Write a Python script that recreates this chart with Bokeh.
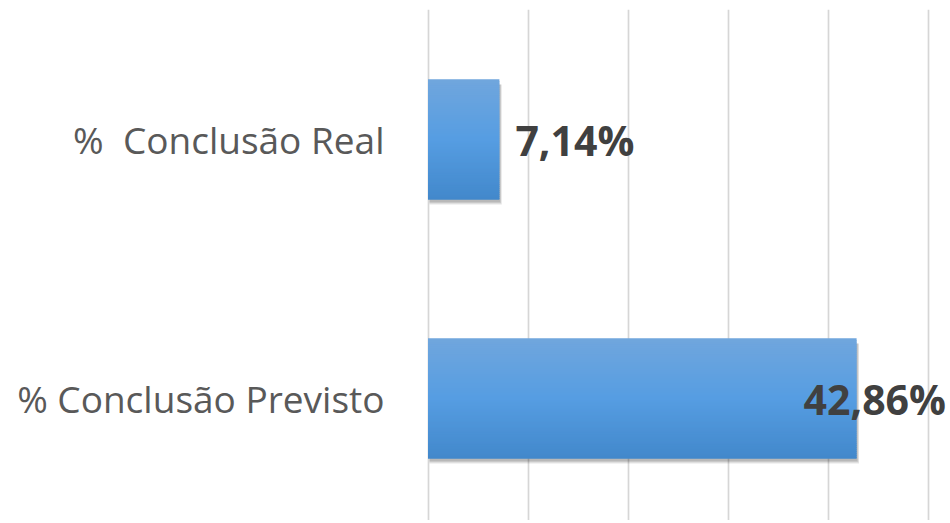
from bokeh.plotting import figure
from bokeh.models import FixedTicker, ColumnDataSource, Range1d
from bokeh.core.properties import value
from bokeh.embed import file_html
from bokeh.resources import INLINE

# ---- data ----
categories = ["% Conclusão Previsto", "%\u00a0 Conclusão Real"]
values = [42.86, 7.14]
labels = ["42,86%", "7,14%"]
x_ticks = [0, 10, 20, 30, 40, 50]

# ---- style ----
bar_h = 0.465
top_rgb = (112, 166, 221)
mid_rgb = (86, 157, 226)
bot_rgb = (66, 136, 203)
label_offsets = [-53, 16]

pos = list(range(len(categories)))

p = figure(width=946, height=520, output_backend="svg", toolbar_location=None,
           x_range=Range1d(-0.15, 51.85), y_range=Range1d(-0.471, 1.502),
           min_border_left=426, min_border_right=0, min_border_top=9,
           min_border_bottom=0)
p.outline_line_color = None
p.background_fill_color = "white"
p.border_fill_color = "white"

p.xaxis.visible = False
p.xgrid.ticker = FixedTicker(ticks=x_ticks)
p.xgrid.grid_line_color = "#D6D6D6"
p.xgrid.grid_line_width = 1.7
p.ygrid.grid_line_color = None

p.yaxis.ticker = FixedTicker(ticks=pos)
p.yaxis.major_label_overrides = {i: c for i, c in zip(pos, categories)}
p.yaxis.axis_line_color = None
p.yaxis.major_tick_line_color = None
p.yaxis.minor_tick_line_color = None
p.yaxis.major_label_text_font = "Open Sans"
p.yaxis.major_label_text_font_size = "37px"
p.yaxis.major_label_text_color = "#595959"
p.yaxis.major_label_standoff = 36


def lerp(a, b, t):
    return tuple(int(round(a[k] + (b[k] - a[k]) * t)) for k in range(3))


def grad_color(t):
    # t = 0 at top, 1 at bottom
    if t < 0.5:
        c = lerp(top_rgb, mid_rgb, t / 0.5)
    else:
        c = lerp(mid_rgb, bot_rgb, (t - 0.5) / 0.5)
    return "#%02x%02x%02x" % c


# shadow (soft, offset down-right)
for k, a in enumerate([0.10, 0.10, 0.10]):
    d = 0.004 * (k + 1)
    p.quad(left=[0.15] * len(values), right=[v + 0.08 * (k + 1) for v in values],
           bottom=[y - bar_h / 2 - d - 0.006 for y in pos],
           top=[y + bar_h / 2 - 0.02 for y in pos],
           fill_color="#000000", fill_alpha=a, line_color=None)

# gradient bars
N = 60
L, R, B, T, C = [], [], [], [], []
for y, v in zip(pos, values):
    top = y + bar_h / 2
    step = bar_h / N
    for i in range(N):
        t = (i + 0.5) / N
        L.append(0)
        R.append(v)
        T.append(top - i * step)
        B.append(top - (i + 1) * step - step * 0.6 if i < N - 1 else top - (i + 1) * step)
        C.append(grad_color(t))
p.quad(left=L, right=R, bottom=B, top=T, fill_color=C, line_color=None)

# data labels
src = ColumnDataSource(dict(x=values, y=pos, text=labels, off=label_offsets))
p.text(x="x", y="y", text="text", x_offset="off", source=src,
       text_font=value("Open Sans"), text_font_style="bold",
       text_font_size="41px", text_color="#404040",
       text_baseline="middle", text_align="left")

open("out.html", "w").write(file_html(p, INLINE))
